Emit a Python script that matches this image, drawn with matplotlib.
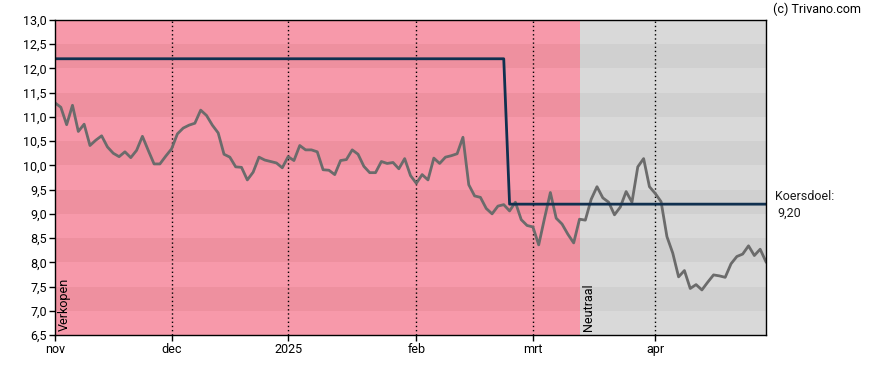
import numpy as np
import matplotlib
matplotlib.use("Agg")
import matplotlib.pyplot as plt

plt.rcParams['font.family'] = ['Roboto', 'DejaVu Sans']

# closing prices, one per trading day (nov 2024 - apr 2025)
prices = [11.29, 11.20, 10.84, 11.24, 10.70, 10.85, 10.41, 10.52, 10.61, 10.38,
          10.25, 10.18, 10.28, 10.16, 10.31, 10.60, 10.31, 10.03, 10.03, 10.19,
          10.34, 10.65, 10.77, 10.83, 10.87, 11.14, 11.03, 10.83, 10.67, 10.23,
          10.17, 9.97, 9.96, 9.70, 9.86, 10.17, 10.11, 10.08, 10.05, 9.95,
          10.18, 10.10, 10.41, 10.32, 10.32, 10.28, 9.91, 9.90, 9.81, 10.10,
          10.12, 10.32, 10.23, 9.98, 9.85, 9.85, 10.08, 10.04, 10.06, 9.93,
          10.14, 9.79, 9.63, 9.81, 9.70, 10.15, 10.04, 10.17, 10.20, 10.24,
          10.58, 9.60, 9.37, 9.34, 9.11, 9.00, 9.16, 9.19, 9.06, 9.24,
          8.88, 8.76, 8.73, 8.36, 8.91, 9.44, 8.91, 8.79, 8.58, 8.40,
          8.89, 8.87, 9.30, 9.56, 9.33, 9.24, 8.98, 9.14, 9.46, 9.24,
          9.97, 10.14, 9.56, 9.42, 9.25, 8.53, 8.19, 7.70, 7.83, 7.46,
          7.54, 7.43, 7.59, 7.74, 7.72, 7.69, 7.97, 8.12, 8.17, 8.34,
          8.14, 8.27, 8.01]

# koersdoel (price target)
target_old = 12.2
target_new = 9.2
target_change = 78

# advice periods
signal_labels = ['Verkopen', 'Neutraal']
signal_start = [0, 90]
signal_light = ['#f799aa', '#d9d9d9']
signal_dark = ['#ee909f', '#d0d0d0']

month_pos = [0, 20, 40, 62, 82, 103]
month_labels = ['nov', 'dec', '2025', 'feb', 'mrt', 'apr']

x = np.arange(len(prices))
target = [target_old if i < target_change else target_new for i in x]
x_end = len(prices) - 1

fig = plt.figure(figsize=(8.88, 3.7), dpi=100)
ax = fig.add_axes([55 / 888, 35 / 370, 711 / 888, 315 / 370])

# coloured background per advice period, with alternating bands
ends = signal_start[1:] + [x_end]
for lab, s, e, lc, dc in zip(signal_labels, signal_start, ends, signal_light, signal_dark):
    ax.axvspan(s, e, color=lc, lw=0, zorder=0)
    for y0 in np.arange(7.0, 13.0, 1.0):
        ax.fill_between([s, e], y0, y0 + 0.5, color=dc, lw=0, zorder=0.5)
    ax.text(s + 0.5, 6.58, lab, rotation=90, fontsize=9, ha='left', va='bottom', zorder=3)

for p in month_pos[1:]:
    ax.axvline(p, color='black', lw=1, ls=(0, (1, 2)), zorder=1)

ax.plot(x, prices, color='#6b6b6b', lw=2, zorder=2)
ax.plot(x, target, color='#10304f', lw=2, zorder=2.5)

ax.set_xlim(0, x_end)
ax.set_ylim(6.5, 13.0)
ax.set_yticks(np.arange(6.5, 13.01, 0.5))
ax.set_yticklabels([f'{v:.1f}'.replace('.', ',') for v in np.arange(6.5, 13.01, 0.5)])
ax.set_xticks(month_pos)
ax.set_xticklabels(month_labels)
ax.tick_params(labelsize=9, length=4, width=1, colors='black', pad=2)
for sp in ax.spines.values():
    sp.set_linewidth(1)

ax.text(1.012, (target_new - 6.5) / 6.5 + 0.025, 'Koersdoel:', transform=ax.transAxes,
        fontsize=9, color='#1a1a1a', ha='left', va='center')
ax.text(1.016, (target_new - 6.5) / 6.5 - 0.03, '9,20', transform=ax.transAxes,
        fontsize=9, color='#1a1a1a', ha='left', va='center')
fig.text(773 / 888, 1 - 9 / 370, '(c) Trivano.com', fontsize=9, ha='left', va='center')

fig.savefig('out.png', dpi=100)
